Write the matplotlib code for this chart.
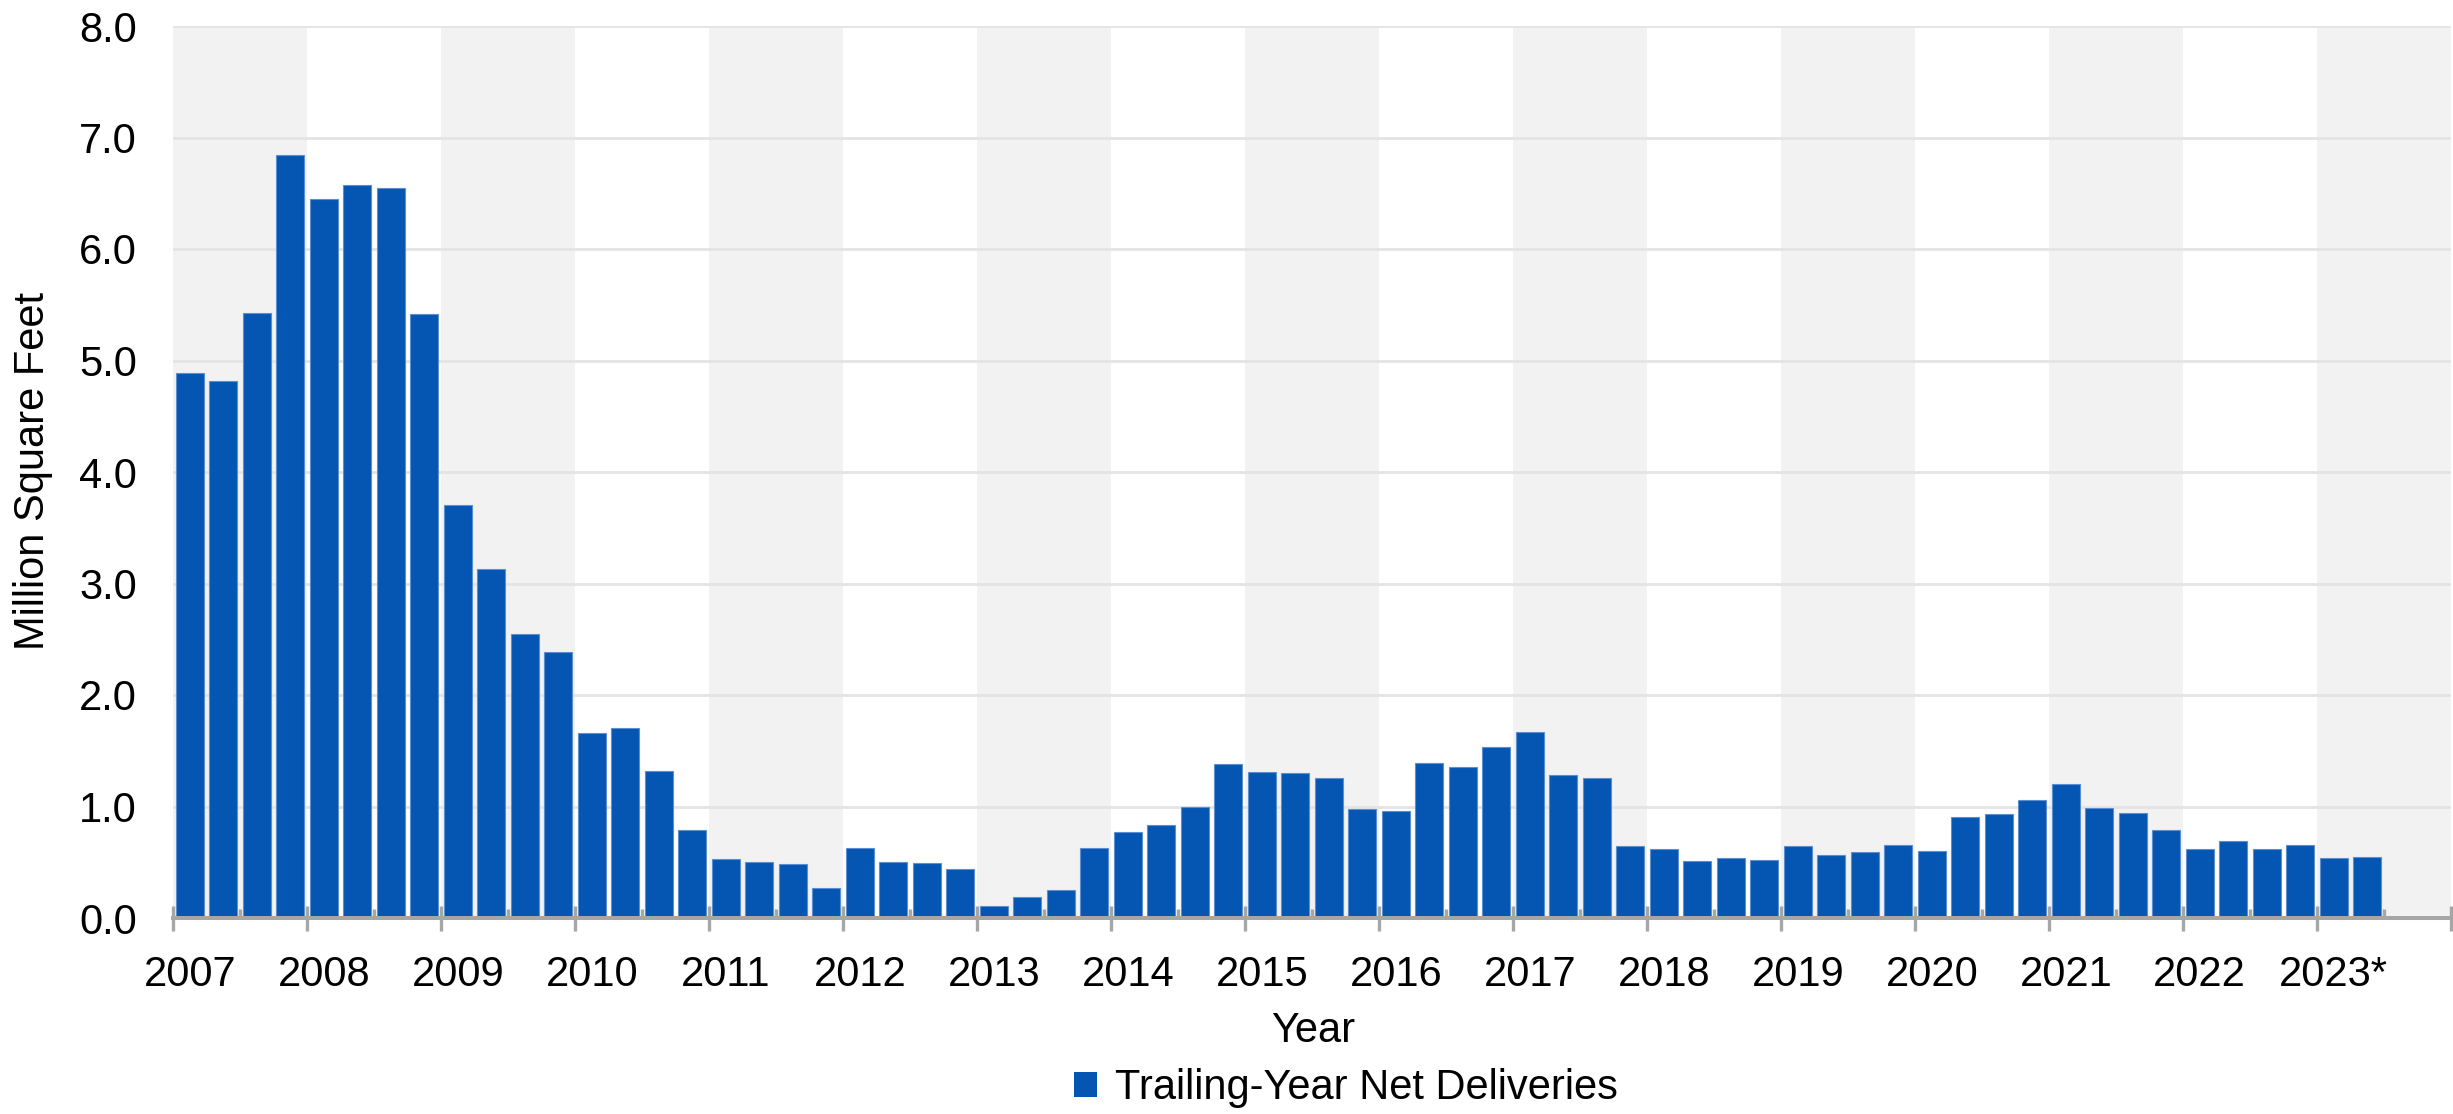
import matplotlib
matplotlib.use("Agg")
import matplotlib.pyplot as plt
from matplotlib.patches import Patch
import numpy as np

plt.rcParams['font.family'] = ['Liberation Sans', 'DejaVu Sans']

years = [str(y) for y in range(2007, 2023)] + ["2023*"]

values = [
    4.89, 4.82, 5.43, 6.84,   # 2007
    6.45, 6.57, 6.55, 5.42,   # 2008
    3.70, 3.13, 2.55, 2.39,   # 2009
    1.66, 1.70, 1.32, 0.79,   # 2010
    0.53, 0.50, 0.48, 0.27,   # 2011
    0.63, 0.50, 0.49, 0.44,   # 2012
    0.11, 0.19, 0.255, 0.63,  # 2013
    0.77, 0.83, 1.00, 1.38,   # 2014
    1.31, 1.30, 1.26, 0.98,   # 2015
    0.96, 1.39, 1.35, 1.53,   # 2016
    1.67, 1.28, 1.255, 0.65,  # 2017
    0.62, 0.515, 0.54, 0.52,  # 2018
    0.645, 0.565, 0.59, 0.655,  # 2019
    0.605, 0.91, 0.93, 1.055,  # 2020
    1.205, 0.985, 0.94, 0.79,  # 2021
    0.62, 0.69, 0.62, 0.655,  # 2022
    0.535, 0.55,              # 2023
]
series_name = "Trailing-Year Net Deliveries"
y_ticks = [0, 1, 2, 3, 4, 5, 6, 7, 8]

BAR = '#0556B3'
BAND = '#F2F2F2'
GRID = '#E4E4E4'
AXIS = '#A6A6A6'
FS = 30

fig = plt.figure(figsize=(24.53, 11.14), dpi=100)
ax = fig.add_axes([173/2453, 1-918/1114, (2451-173)/2453, (918-26)/1114])

n_years = len(years)
x = np.arange(len(values))

# alternating year bands
for k in range(n_years):
    if k % 2 == 0:
        ax.axvspan(-0.5 + 4*k, 3.5 + 4*k, color=BAND, zorder=0.1, lw=0)

ax.bar(x, values, width=0.84, color=BAR, edgecolor='#5C8FD0', linewidth=0.8,
       zorder=2, label=series_name)

ax.set_xlim(-0.5, -0.5 + 4*n_years)
ax.set_ylim(0, 8)
ax.set_yticks(y_ticks)
ax.set_yticklabels([f"{v:.1f}" for v in y_ticks])
ax.yaxis.grid(True, color=GRID, lw=2, zorder=0.5)
ax.set_axisbelow(True)

for s in ['top', 'right', 'left']:
    ax.spines[s].set_visible(False)
ax.spines['bottom'].set_color(AXIS)
ax.spines['bottom'].set_linewidth(2.9)
ax.spines['bottom'].set_zorder(3)

ax.tick_params(axis='y', length=0, pad=26, labelsize=FS, labelcolor='black')

major = [-0.5 + 4*k for k in range(n_years + 1)]
minor = [1.5 + 4*k for k in range(n_years)]
ax.set_xticks(major)
ax.set_xticklabels([''] * len(major))
ax.set_xticks(minor, minor=True)
ax.tick_params(axis='x', which='major', direction='inout', length=18, width=2.4, color=AXIS)
ax.tick_params(axis='x', which='minor', direction='in', length=6.5, width=2.4, color=AXIS)

sec = ax.secondary_xaxis('bottom')
sec.set_xticks([4*k for k in range(n_years)])
sec.set_xticklabels(years)
sec.tick_params(axis='x', length=0, pad=27, labelsize=FS)
sec.spines['bottom'].set_visible(False)

fig.text(1313/2453, 1-1042/1114, "Year", ha='center', va='baseline', fontsize=FS)
fig.text(33/2453, 1-471.5/1114, "Million Square Feet", rotation=90,
         ha='center', va='center', fontsize=FS)

h = Patch(facecolor=BAR, edgecolor='none')
fig.legend([h], [series_name], loc='center', bbox_to_anchor=(1346/2453, 1-1088/1114),
           frameon=False, fontsize=FS, handlelength=0.55, handleheight=0.55,
           handletextpad=0.43, borderpad=0, borderaxespad=0)

fig.savefig("out.png", dpi=100)
